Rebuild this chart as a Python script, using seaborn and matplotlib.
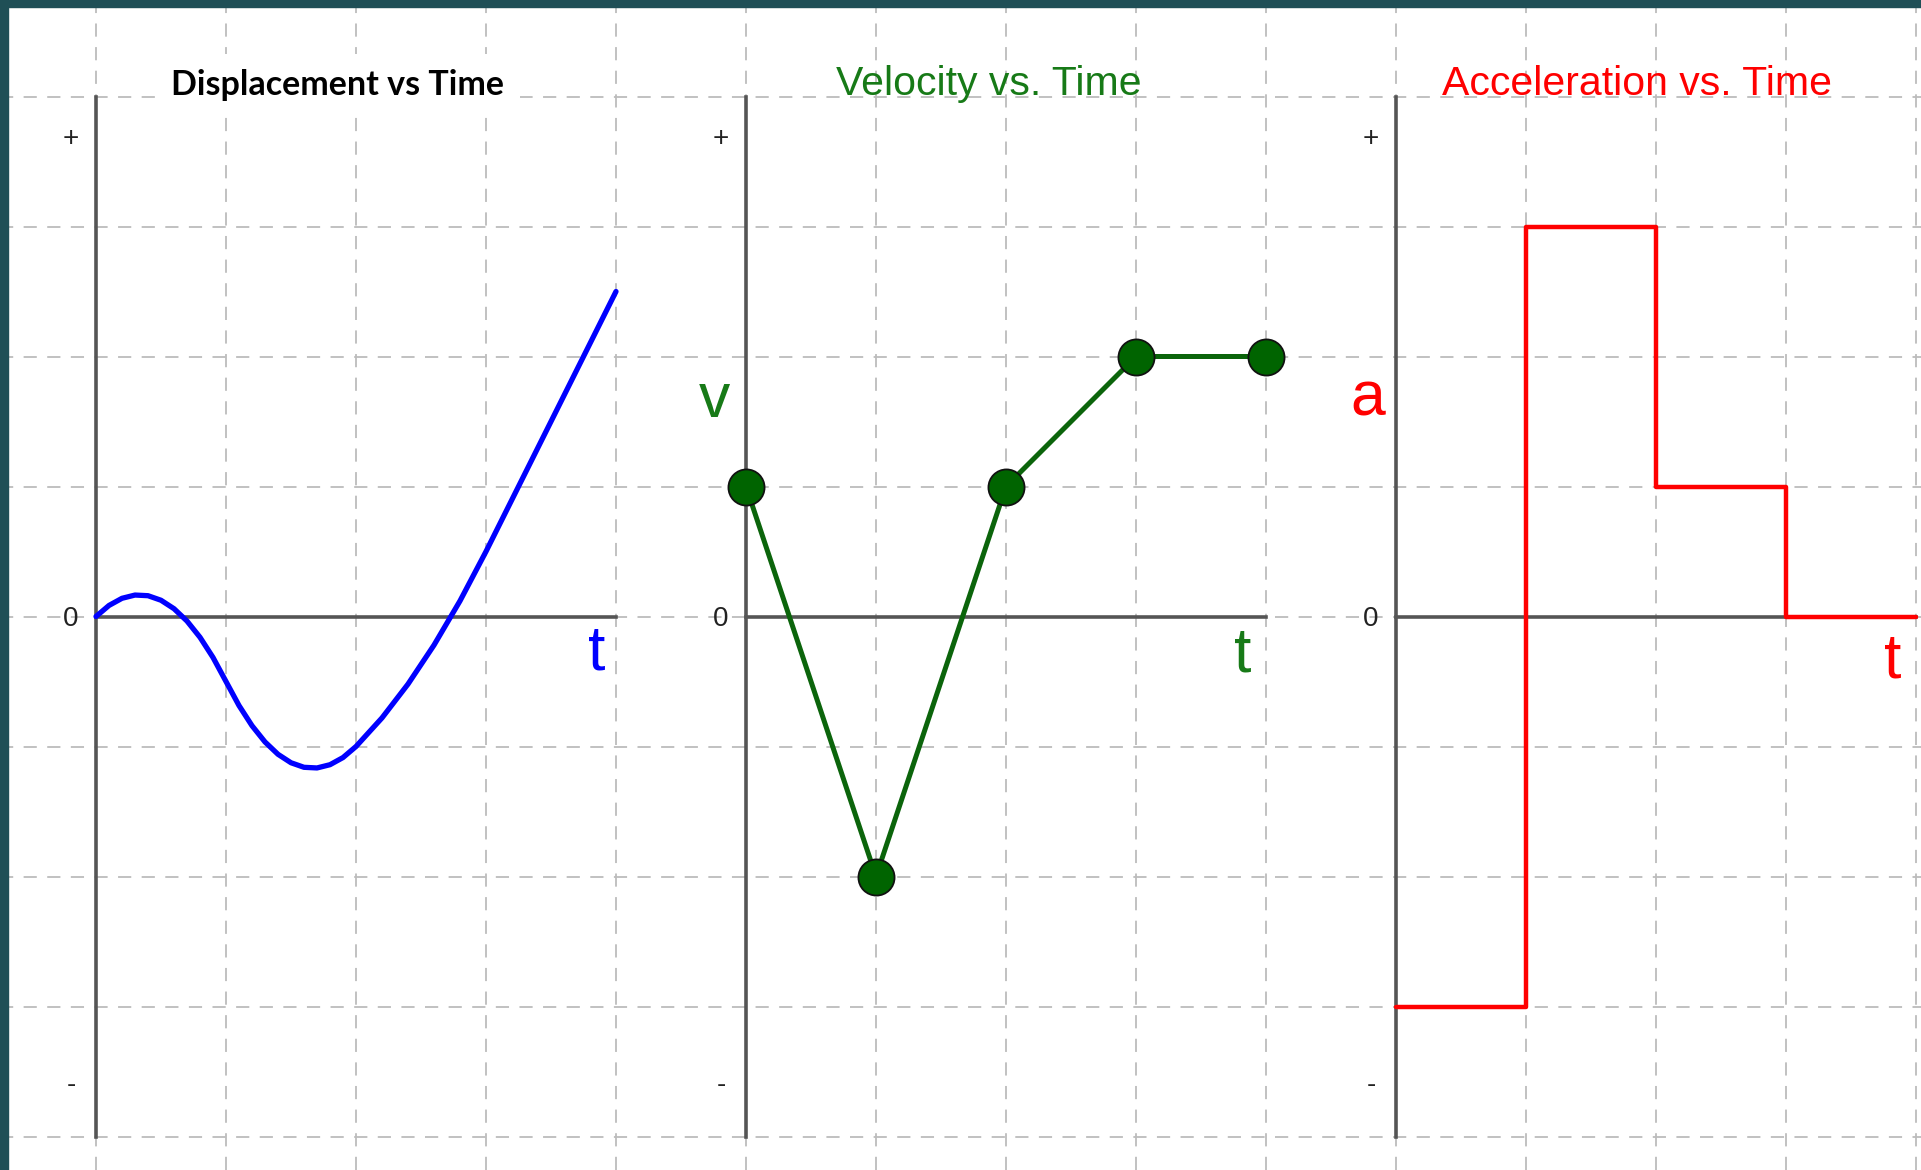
import numpy as np
import matplotlib
matplotlib.use("Agg")
import matplotlib.pyplot as plt
import seaborn as sns

# displacement (grid units)
t_disp = [0.0, 0.1, 0.2, 0.3, 0.4, 0.5, 0.6, 0.7, 0.8, 0.9, 1.0,
          1.1, 1.2, 1.3, 1.4, 1.5, 1.6, 1.7, 1.8, 1.9, 2.0,
          2.2, 2.4, 2.6, 2.8, 3.0, 3.5, 4.0]
disp = [0.0, 0.085, 0.14, 0.165, 0.16, 0.125, 0.06, -0.035, -0.16, -0.315, -0.5,
        -0.685, -0.84, -0.965, -1.06, -1.125, -1.16, -1.165, -1.14, -1.085, -1.0,
        -0.78, -0.52, -0.22, 0.12, 0.5, 1.5, 2.5]

# velocity points
t_vel = [0, 1, 2, 3, 4]
vel = [1, -2, 1, 2, 2]

# acceleration steps
t_acc = [0, 1, 2, 3, 4]
acc = [-3, 3, 1, 0, 0]

tick_pos = [3.7, 0, -3.58]
tick_labels = ["+", "0", "-"]

titles = ["Displacement vs Time", "Velocity vs. Time", "Acceleration vs. Time"]
t_labels = ["t", "t", "t"]
y_labels = [None, "v", "a"]

BLUE = "#0000ff"
GREEN_LINE = "#0b640b"
GREEN_DOT = "#006400"
GREEN_TXT = "#177a17"
RED = "#ff0000"
TEAL = "#1f4f56"
AXIS = "#555555"
GRID = "#bcbcbc"

sns.set_theme(style="white")
plt.rcParams["font.family"] = ["Liberation Sans", "DejaVu Sans"]
plt.rcParams["lines.scale_dashes"] = False

W, H, DPI = 1921, 1170, 100
UNIT = 130.0            # px per grid square
ORIGIN_Y = 616.5        # px from top to the t axis
ORIGIN_X = [96, 746, 1396]

fig = plt.figure(figsize=(W / DPI, H / DPI), dpi=DPI)
fig.patch.set_facecolor("white")

# dashed grid running under all three panels
bg = fig.add_axes([0, 0, 1, 1], zorder=0)
bg.set_xlim(-ORIGIN_X[0] / UNIT, (W - ORIGIN_X[0]) / UNIT)
bg.set_ylim((ORIGIN_Y - H) / UNIT, ORIGIN_Y / UNIT)
bg.set_xticks(np.arange(0, 15))
bg.set_yticks(np.arange(-4, 5))
bg.grid(True, color=GRID, lw=1.3, ls=(0, (9.5, 7.5)))
bg.tick_params(length=0, labelbottom=False, labelleft=False)
for s in bg.spines.values():
    s.set_visible(False)

# dark frame on top and left
fig.add_artist(plt.Rectangle((0, 1 - 7 / H), 1, 7 / H, transform=fig.transFigure,
                             color=TEAL, zorder=10))
fig.add_artist(plt.Rectangle((0, 0), 8 / W, 1, transform=fig.transFigure,
                             color=TEAL, zorder=10))


def make_panel(k):
    ax = fig.add_axes([ORIGIN_X[k] / W, (H - ORIGIN_Y - 4 * UNIT) / H,
                       4 * UNIT / W, 8 * UNIT / H], zorder=2)
    ax.set_facecolor("none")
    return ax


def style_panel(ax):
    ax.set_xlim(0, 4)
    ax.set_ylim(-4, 4)
    ax.grid(False)
    ax.spines["top"].set_visible(False)
    ax.spines["right"].set_visible(False)
    ax.spines["bottom"].set_position(("data", 0))
    for s in ("left", "bottom"):
        ax.spines[s].set_color(AXIS)
        ax.spines[s].set_linewidth(2.6)
    ax.set_xticks([])
    ax.set_yticks(tick_pos, tick_labels)
    ax.tick_params(axis="y", length=0, pad=18, labelsize=20, labelcolor="#222222")
    for lab in ax.get_yticklabels():
        lab.set_ha("center")
    ax.set_xlabel("")
    ax.set_ylabel("")


axes = [make_panel(k) for k in range(3)]

# displacement
ax = axes[0]
sns.lineplot(x=t_disp, y=disp, ax=ax, color=BLUE, lw=3.8, sort=False,
             clip_on=False, zorder=3)
style_panel(ax)
ax.text(1.86, 4.01, titles[0], ha="center", va="baseline", fontsize=24.5,
        fontweight="bold", family=["Lato", "DejaVu Sans"], color="black",
        bbox=dict(boxstyle="square,pad=0.45", fc="white", ec="none"), clip_on=False)
ax.text(3.85, -0.41, t_labels[0], ha="center", va="baseline", fontsize=45, color=BLUE)

# velocity
ax = axes[1]
sns.lineplot(x=t_vel, y=vel, ax=ax, color=GREEN_LINE, lw=3.6, marker="o",
             markersize=26, markerfacecolor=GREEN_DOT, markeredgecolor="#111111",
             markeredgewidth=1.3, clip_on=False, zorder=5)
style_panel(ax)
ax.text(1.865, 4.01, titles[1], ha="center", va="baseline", fontsize=29.5,
        color=GREEN_TXT, clip_on=False)
ax.text(3.82, -0.42, t_labels[1], ha="center", va="baseline", fontsize=45, color=GREEN_TXT)
ax.text(-0.246, 1.535, y_labels[1], ha="center", va="baseline", fontsize=45,
        color=GREEN_TXT, clip_on=False)

# acceleration
ax = axes[2]
sns.lineplot(x=t_acc, y=acc, ax=ax, color=RED, lw=3.2, drawstyle="steps-post",
             clip_on=False, zorder=3)
style_panel(ax)
ax.text(1.85, 4.01, titles[2], ha="center", va="baseline", fontsize=29.5,
        color=RED, clip_on=False)
ax.text(3.82, -0.47, t_labels[2], ha="center", va="baseline", fontsize=45, color=RED)
ax.text(-0.215, 1.55, y_labels[2], ha="center", va="baseline", fontsize=45,
        color=RED, clip_on=False)

fig.savefig("out.png", dpi=DPI)
